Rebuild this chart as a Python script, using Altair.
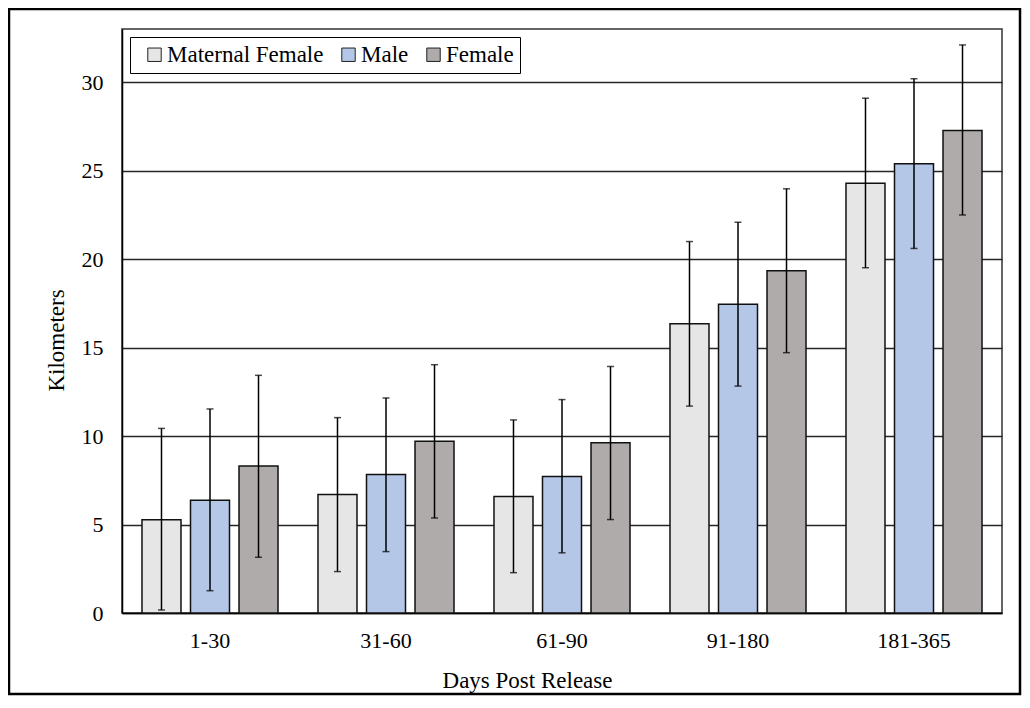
import altair as alt
import pandas as pd

periods = ["1-30", "31-60", "61-90", "91-180", "181-365"]
groups = ["Maternal Female", "Male", "Female"]
colors = ["#E6E6E6", "#B4C7E7", "#AFABAB"]

mean_mf = [5.27, 6.70, 6.59, 16.34, 24.28]
low_mf = [0.17, 2.34, 2.28, 11.69, 19.51]
high_mf = [10.43, 11.04, 10.91, 20.99, 29.09]

mean_male = [6.37, 7.82, 7.72, 17.45, 25.39]
low_male = [1.26, 3.47, 3.40, 12.82, 20.60]
high_male = [11.53, 12.15, 12.06, 22.08, 30.19]

mean_fem = [8.31, 9.70, 9.62, 19.34, 27.26]
low_fem = [3.15, 5.37, 5.28, 14.71, 22.49]
high_fem = [13.43, 14.03, 13.93, 23.97, 32.10]

y_ticks = [0, 5, 10, 15, 20, 25, 30]

rows = []
for g, m, lo, hi in [
    (groups[0], mean_mf, low_mf, high_mf),
    (groups[1], mean_male, low_male, high_male),
    (groups[2], mean_fem, low_fem, high_fem),
]:
    for p, a, b, c in zip(periods, m, lo, hi):
        rows.append({"period": p, "group": g, "mean": a, "low": b, "high": c})
df = pd.DataFrame(rows)

FONT = "Liberation Serif"

x_axis = alt.Axis(
    title="Days Post Release",
    labelAngle=0,
    ticks=False,
    tickSize=0,
    labelPadding=17,
    labelFontSize=22,
    titleFontSize=23,
    titleX=405,
    titleY=74,
    titleBaseline="alphabetic",
    titleFontWeight="normal",
    domainColor="black",
    domainWidth=1.5,
    grid=False,
)
y_axis = alt.Axis(
    title="Kilometers",
    values=y_ticks,
    ticks=False,
    tickSize=0,
    labelPadding=19,
    labelFontSize=22,
    titleFontSize=23,
    titleX=-59,
    titleY=311,
    titleBaseline="alphabetic",
    titleFontWeight="normal",
    domainColor="black",
    domainWidth=1.5,
    grid=True,
    gridColor="#262626",
    gridWidth=1.5,
)

x_enc = alt.X("period:N", sort=periods, axis=x_axis,
              scale=alt.Scale(paddingInner=0, paddingOuter=0))
xo_enc = alt.XOffset("group:N", sort=groups,
                     scale=alt.Scale(domain=groups, paddingInner=0.196, paddingOuter=0.412))
y_scale = alt.Scale(domain=[0, 33], nice=False, zero=True)

base = alt.Chart(df)

bars = base.mark_bar(stroke="#111111", strokeWidth=1.5).encode(
    x=x_enc,
    xOffset=xo_enc,
    y=alt.Y("mean:Q", scale=y_scale, axis=y_axis),
    color=alt.Color(
        "group:N",
        sort=groups,
        scale=alt.Scale(domain=groups, range=colors),
        legend=alt.Legend(
            title=None,
            orient="none",
            legendX=8,
            legendY=8,
            direction="horizontal",
            symbolType="square",
            symbolSize=180,
            symbolStrokeColor="#222222",
            symbolStrokeWidth=1,
            symbolOffset=7,
            labelOffset=1,
            labelLimit=0,
            columnPadding=6,
            labelFontSize=23,
            labelFont=FONT,
            labelColor="black",
            fillColor="white",
            strokeColor="black",
            padding=6,
        ),
    ),
)

rules = base.mark_rule(color="black", strokeWidth=1.5).encode(
    x=x_enc,
    xOffset=xo_enc,
    y=alt.Y("low:Q", scale=y_scale, axis=y_axis),
    y2="high:Q",
)

caps_low = base.mark_tick(color="black", thickness=1.5, size=7).encode(
    x=x_enc,
    xOffset=xo_enc,
    y=alt.Y("low:Q", scale=y_scale, axis=y_axis),
)
caps_high = base.mark_tick(color="black", thickness=1.5, size=7).encode(
    x=x_enc,
    xOffset=xo_enc,
    y=alt.Y("high:Q", scale=y_scale, axis=y_axis),
)

border = alt.Chart(alt.Data(values=[{"a": 1}])).mark_rect(
    fillOpacity=0, stroke="black", strokeWidth=2.5
).encode(
    x=alt.value(-113), x2=alt.value(898), y=alt.value(-20), y2=alt.value(665)
)

chart = alt.layer(bars, rules, caps_low, caps_high, border).properties(
    width=880,
    height=584,
    autosize=alt.AutoSizeParams(type="none"),
    padding={"left": 114, "top": 21, "right": 20, "bottom": 83},
).configure(
    font=FONT,
    background="white",
).configure_axis(
    labelFont=FONT,
    titleFont=FONT,
    labelColor="black",
    titleColor="black",
).configure_view(
    stroke="#333333",
    strokeWidth=1.5,
)

chart.save("out.html", embed_options={"renderer": "svg", "actions": False})
